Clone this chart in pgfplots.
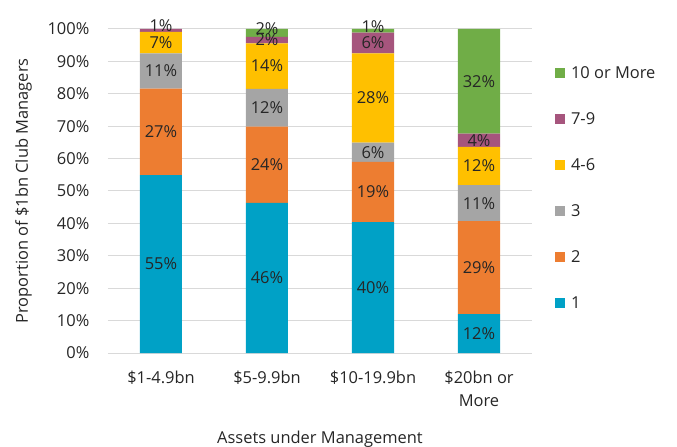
\documentclass[border=0pt]{standalone}
\usepackage{fontspec}
\setmainfont{Open Sans}
\usepackage{pgfplots}
\usepackage{pgfplotstable}
\pgfplotsset{compat=1.18}

\definecolor{c1}{RGB}{0,161,198}
\definecolor{c2}{RGB}{237,125,49}
\definecolor{c3}{RGB}{165,165,165}
\definecolor{c4}{RGB}{255,192,0}
\definecolor{c5}{RGB}{166,85,125}
\definecolor{c6}{RGB}{112,173,71}
\definecolor{txt}{RGB}{38,38,38}
\definecolor{gridc}{RGB}{217,217,217}

\newcommand\pc{\%}
\newcommand\up[1]{\raisebox{9bp}{#1}}

% shares (%) for 1, 2, 3, 4-6, 7-9, 10 or More; la..lf printed labels
\pgfplotstableread{
x a    b    c    d    e   f    la      lb      lc      ld      le         lf
0 54.9 26.7 10.9 6.6  0.9 0.0  55\pc{} 27\pc{} 11\pc{} 7\pc{}  \up{1\pc} {}
1 46.3 23.6 11.6 14.1 2.0 2.4  46\pc{} 24\pc{} 12\pc{} 14\pc{} 2\pc{}     \up{2\pc}
2 40.4 18.6 5.9  27.6 6.4 1.1  40\pc{} 19\pc{} 6\pc{}  28\pc{} 6\pc{}     \up{1\pc}
3 12.0 28.7 11.1 11.8 4.1 32.3 12\pc{} 29\pc{} 11\pc{} 12\pc{} 4\pc{}     32\pc{}
}\aum

% stacked labels already sit mid-segment
\pgfplotsset{
  seg/.style={
    fill=#1, draw=none,
    nodes near coords,
    point meta=explicit symbolic,
    every node near coord/.style={anchor=center, inner sep=0pt, text=txt},
  },
}

\begin{document}
\fontsize{16.5}{22.5}\selectfont
\begin{tikzpicture}
\begin{axis}[
  scale only axis,
  width=424bp, height=324bp,
  ybar stacked, bar width=42bp,
  xmin=-0.5, xmax=3.5, ymin=0, ymax=100,
  xtick={0,1,2,3},
  xticklabels={\$1-4.9bn,\$5-9.9bn,\$10-19.9bn,{\$20bn or\\More}},
  ytick={0,10,...,100},
  yticklabel={\pgfmathprintnumber{\tick}\%},
  /pgf/number format/assume math mode=true,
  axis line style={draw=none},
  major tick length=0pt,
  ymajorgrids, grid style={gridc, line width=1bp},
  tick label style={text=txt},
  yticklabel style={anchor=east, inner sep=0pt, xshift=-18.5bp},
  xticklabel style={anchor=north, inner sep=0pt, yshift=-18bp, align=center},
  xlabel={Assets under Management},
  ylabel={Proportion of \$1bn Club Managers},
  xlabel style={at={(axis description cs:0.5,-0.278)}, anchor=base, inner sep=0pt, text=txt},
  ylabel style={at={(axis description cs:-0.1887,0.5)}, anchor=base, inner sep=0pt, text=txt},
  reverse legend,
  legend image code/.code={\draw[#1,draw=none] (0bp,-5bp) rectangle (10bp,5bp);},
  legend style={at={(rel axis cs:1.054,0.889)}, anchor=north west, draw=none, fill=none,
    inner sep=0pt, row sep=30bp, column sep=6bp, cells={anchor=west},
    nodes={inner sep=0pt, text height=13bp, text depth=3bp, text=txt}},
]
\addplot[seg=c1] table[x=x, y=a, meta=la] {\aum};
\addplot[seg=c2] table[x=x, y=b, meta=lb] {\aum};
\addplot[seg=c3] table[x=x, y=c, meta=lc] {\aum};
\addplot[seg=c4] table[x=x, y=d, meta=ld] {\aum};
\addplot[seg=c5] table[x=x, y=e, meta=le] {\aum};
\addplot[seg=c6] table[x=x, y=f, meta=lf] {\aum};
\legend{1,2,3,4-6,7-9,10 or More}
\path (rel axis cs:0,0) coordinate (o);
\end{axis}
\pgfresetboundingbox
\path[use as bounding box] (o) ++(-108bp,-94bp) rectangle ++(677bp,447bp);
\end{tikzpicture}
\end{document}
